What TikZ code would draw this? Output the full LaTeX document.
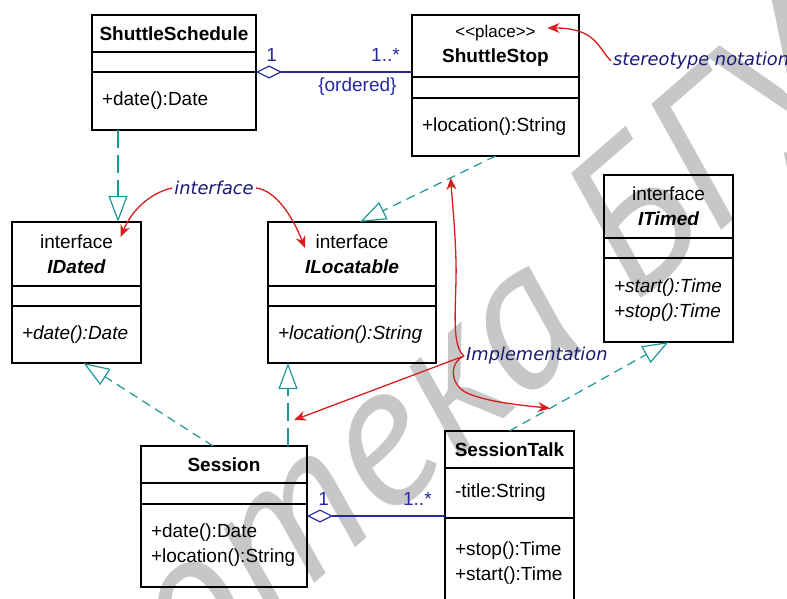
\documentclass[tikz,border=0pt]{standalone}
\usepackage{fontspec}
\setmainfont{Liberation Sans}
\newfontfamily\notefont{DejaVu Sans}
\newfontfamily\wmfont{PT Sans}
\usetikzlibrary{positioning, arrows.meta, calc}
\definecolor{umlnavy}{RGB}{40,40,160}
\definecolor{notenavy}{RGB}{25,25,115}
\definecolor{umlteal}{RGB}{30,150,150}
\definecolor{notered}{RGB}{215,30,30}
\tikzset{
	>={Stealth[length=12pt, width=10pt]},
	part/.style={draw, line width=1.2pt, outer sep=0pt, inner sep=0pt, align=center, font=\fontsize{19}{25}\selectfont},
	ops/.style={part, align=left, inner xsep=10pt},
	agg/.style={umlnavy, line width=1.2pt, {Diamond[open, length=26pt, width=13pt]}-},
	mult/.style={umlnavy, inner sep=2pt, font=\fontsize{19}{22}\selectfont},
	realize/.style={umlteal, line width=1.2pt, dash pattern=on 9pt off 6pt, -{Triangle[open, length=26pt, width=19pt]}},
	longdash/.style={dash pattern=on 18pt off 7pt},
	note/.style={notered, line width=1.3pt, ->},
	notetext/.style={notenavy, inner sep=2pt, font=\notefont\itshape\fontsize{17.8}{20}\selectfont},
}

\begin{document}
\begin{tikzpicture}[x=1pt, y=-1pt]
	\useasboundingbox (0,0) rectangle (787,599);
	\node[black!22, rotate=41, inner sep=0pt, font=\wmfont\itshape\fontsize{201}{201}\selectfont] (WM) at (289,511) {Библиотека БГУ};

	\node[part, minimum width=164pt, minimum height=37pt] (SCHED) at (174,33.5) {\bfseries ShuttleSchedule};
	\node[part, minimum width=164pt, minimum height=20pt, below=0pt of SCHED] (SCHEDA) {};
	\node[ops, text width=144pt, minimum height=58pt, below=0pt of SCHEDA] (SCHEDO) {+date():Date};

	\node[part, minimum width=167pt, minimum height=62pt] (STOP) at (495.5,46) {{\fontsize{17}{25}\selectfont <{}<place>{}>}\\\bfseries ShuttleStop};
	\node[part, minimum width=167pt, minimum height=21pt, below=0pt of STOP] (STOPA) {};
	\node[ops, text width=147pt, minimum height=58pt, below=0pt of STOPA] (STOPO) {+location():String};

	\node[part, minimum width=129pt, minimum height=64pt] (IDATED) at (76.5,254) {interface\\\bfseries\itshape IDated};
	\node[part, minimum width=129pt, minimum height=20pt, below=0pt of IDATED] (IDATEDA) {};
	\node[ops, text width=109pt, minimum height=57pt, below=0pt of IDATEDA] (IDATEDO) {\itshape +date():Date};

	\node[part, minimum width=168pt, minimum height=64pt] (ILOC) at (352,254) {interface\\\bfseries\itshape ILocatable};
	\node[part, minimum width=168pt, minimum height=20pt, below=0pt of ILOC] (ILOCA) {};
	\node[ops, text width=148pt, minimum height=57pt, below=0pt of ILOCA] (ILOCO) {\itshape +location():String};

	\node[part, minimum width=129pt, minimum height=63pt] (ITIMED) at (668.5,206.5) {interface\\\bfseries\itshape ITimed};
	\node[part, minimum width=129pt, minimum height=20pt, below=0pt of ITIMED] (ITIMEDA) {};
	\node[ops, text width=109pt, minimum height=84pt, below=0pt of ITIMEDA] (ITIMEDO) {\itshape +start():Time\\+stop():Time};

	\node[part, minimum width=166pt, minimum height=37pt] (SESSION) at (224,464.5) {\bfseries Session};
	\node[part, minimum width=166pt, minimum height=21pt, below=0pt of SESSION] (SESSIONA) {};
	\node[ops, text width=146pt, minimum height=83pt, below=0pt of SESSIONA] (SESSIONO) {+date():Date\\+location():String};

	\node[part, minimum width=129pt, minimum height=37pt] (TALK) at (509.5,449.5) {\bfseries SessionTalk};
	\node[ops, text width=109pt, minimum height=50pt, below=0pt of TALK] (TALKA) {-title:String};
	\node[ops, text width=109pt, minimum height=90pt, below=0pt of TALKA] (TALKO) {+stop():Time\\+start():Time};

	\draw[agg] (SCHEDA.south east) -- (SCHEDA.south east -| STOP.west)
		node[mult, pos=0.1, above=8pt] (M1) {1}
		node[mult, pos=0.83, above=8pt] (M2) {1..*}
		node[mult, pos=0.65, below=3pt] (ORD) {\{ordered\}};
	\coordinate (SESSAGG) at ($(SESSIONO.north east)+(0,12)$);
	\draw[agg] (SESSAGG) -- (SESSAGG -| TALK.west)
		node[mult, pos=0.12, above=8pt] (M3) {1}
		node[mult, pos=0.8, above=8pt] (M4) {1..*};

	\coordinate (R1) at ($(SCHEDO.south west)+(26,0)$);
	\draw[realize, longdash] (R1) -- (R1 |- IDATED.north);
	\draw[realize] (STOPO.south) -- coordinate[pos=0.33] (STOPMARK) ($(ILOC.north)+(8,0)$);
	\draw[realize] ($(SESSION.north)+(-11,0)$) -- ($(IDATEDO.south)+(7,0)$);
	\coordinate (R4) at ($(SESSION.north)+(64,0)$);
	\draw[realize, longdash] (R4) -- (R4 |- ILOCO.south);
	\draw[realize] (TALK.north) -- coordinate[pos=0.255] (TALKMARK) (ITIMEDO.south);

	\node[notetext, anchor=west] (STEREO) at (611,61) {stereotype notation};
	\node[notetext] (IFACE) at (214,188) {interface};
	\node[notetext, anchor=west] (IMPL) at (464,356) {Implementation};

	\coordinate (PLACEMARK) at ($(STOP.north)+(52,13)$);
	\coordinate (DATEDMARK) at ($(IDATED.north)+(44,15)$);
	\coordinate (LOCMARK) at ($(ILOC.north)+(-47,26)$);
	\coordinate (SESSMARK) at ($(R4)+(6,-26)$);

	\draw[note] (STEREO.west) .. controls (598,48) and (596,28) .. (PLACEMARK);
	\draw[note] (IFACE.west) .. controls (150,193) and (132,210) .. (DATEDMARK);
	\draw[note] (IFACE.east) .. controls (275,190) and (292,215) .. (LOCMARK);
	\draw[note] (IMPL.west) .. controls (450,345) and (457,300) .. (456,262) .. controls (455,225) and (452,200) .. (STOPMARK);
	\draw[note] (IMPL.west) -- (SESSMARK);
	\draw[note] (IMPL.west) .. controls (450,362) and (449,382) .. (465,392) .. controls (485,402) and (520,405) .. (TALKMARK);
\end{tikzpicture}
\end{document}
